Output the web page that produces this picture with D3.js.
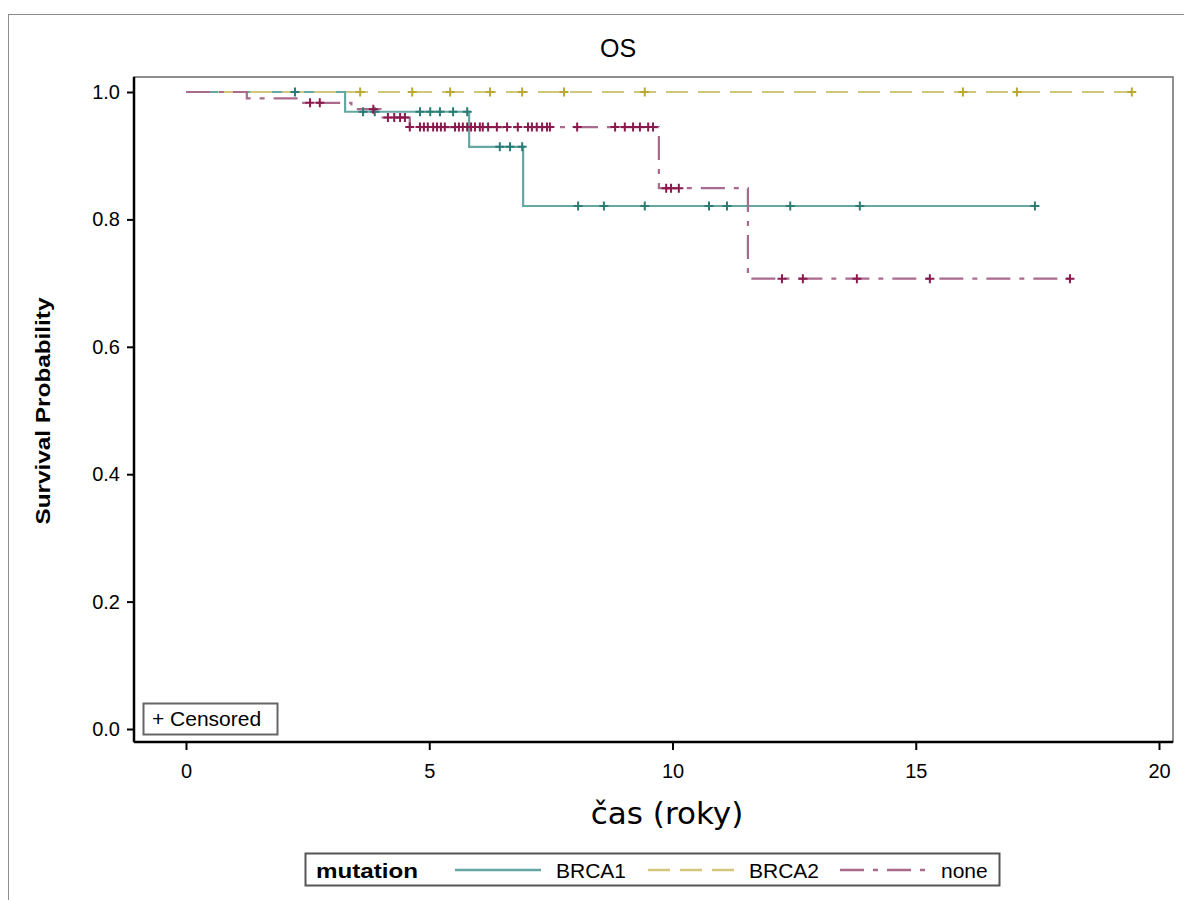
<!DOCTYPE html>
<html>
<head>
<meta charset="utf-8">
<script src="https://d3js.org/d3.v7.min.js"></script>
<style>
body { margin: 0; background: #fff; }
text { font-family: "Liberation Sans", Arial, sans-serif; fill: #000; }
</style>
</head>
<body>
<svg id="chart" width="1184" height="900"></svg>
<script>
// step curves: event times and survival estimates
var brca1Time = [0, 3.27, 5.82, 6.93, 17.45];
var brca1Surv = [1, 0.969, 0.914, 0.821, 0.821];
var brca1Cens = [2.24, 3.64, 3.88, 4.81, 5.02, 5.22, 5.49, 5.78, 6.45, 6.66, 6.91,
                 8.06, 8.59, 9.43, 10.75, 11.12, 12.42, 13.85, 17.45];

var brca2Time = [0, 19.45];
var brca2Surv = [1, 1];
var brca2Cens = [3.58, 4.65, 5.43, 6.25, 6.91, 7.77, 9.43, 15.97, 17.08, 19.44];

var noneTime = [0, 1.25, 2.3, 3.4, 4.0, 4.6, 9.72, 11.55, 18.17];
var noneSurv = [1, 0.99, 0.983, 0.973, 0.96, 0.945, 0.849, 0.707, 0.707];
var noneCens = [2.55, 2.75, 3.85, 4.15, 4.28, 4.40, 4.50, 4.60,
                4.81, 4.89, 4.97, 5.08, 5.16, 5.24, 5.32, 5.53, 5.61, 5.69, 5.78, 5.86, 5.94,
                6.04, 6.10, 6.21, 6.39, 6.60, 6.82, 7.03, 7.11, 7.21, 7.32, 7.42, 7.48,
                8.04, 8.82, 9.02, 9.19, 9.33, 9.50, 9.60,
                9.87, 9.97, 10.13, 12.25, 12.68, 13.79, 15.29, 18.17];

var xTicks = [0, 5, 10, 15, 20];
var yTicks = [0, 0.2, 0.4, 0.6, 0.8, 1.0];
var groups = ["BRCA1", "BRCA2", "none"];

var svg = d3.select("#chart");

// scales
var x = d3.scaleLinear().domain([0, 20]).range([186, 1159]);
var y = d3.scaleLinear().domain([0, 1]).range([729, 92]);

// outer frame
svg.append("rect").attr("x", 8.5).attr("y", 14.5).attr("width", 1180).attr("height", 900)
    .attr("fill", "none").attr("stroke", "#8c8c8c").attr("stroke-width", 1);

// plot frame
svg.append("rect").attr("x", 134).attr("y", 77).attr("width", 1039).attr("height", 665)
    .attr("fill", "#fff").attr("stroke", "#6a6a6a").attr("stroke-width", 1.5);

// axes
var yAxis = svg.append("g").attr("transform", "translate(134,0)")
    .call(d3.axisLeft(y).tickValues(yTicks).tickFormat(d3.format(".1f")).tickSize(7).tickSizeOuter(0));
var xAxis = svg.append("g").attr("transform", "translate(0,742)")
    .call(d3.axisBottom(x).tickValues(xTicks).tickFormat(d3.format("d")).tickSize(8).tickSizeOuter(0));
yAxis.select(".domain").attr("d", "M0,77V742");
xAxis.select(".domain").attr("d", "M134,0H1173");
[yAxis, xAxis].forEach(function(a) {
    a.selectAll(".domain").attr("stroke", "#000").attr("stroke-width", 2.5);
    a.selectAll(".tick line").attr("stroke", "#000").attr("stroke-width", 2);
    a.selectAll(".tick text").style("font-size", "20px").style("font-family", "Liberation Sans, Arial, sans-serif").attr("fill", "#222");
});
yAxis.selectAll(".tick text").attr("x", -14);
xAxis.selectAll(".tick text").attr("y", 22);

// titles
svg.append("text").attr("x", 618).attr("y", 57).attr("text-anchor", "middle")
    .style("font-size", "25px").attr("fill", "#222").text("OS");
svg.append("text").attr("transform", "translate(50,411) rotate(-90)").attr("text-anchor", "middle")
    .style("font-size", "21px").style("font-weight", "bold")
    .attr("textLength", 227).attr("lengthAdjust", "spacingAndGlyphs").text("Survival Probability");
svg.append("text").attr("x", 667).attr("y", 824).attr("text-anchor", "middle")
    .style("font-family", "DejaVu Sans, sans-serif").style("font-size", "31px").attr("fill", "#222")
    .text("čas (roky)");

// series styling
var lineColor = { BRCA1: "#65a7a2", BRCA2: "#d2c67c", none: "#a96a8c" };
var markColor = { BRCA1: "#2a7c75", BRCA2: "#b9a92e", none: "#8a1a4e" };
var dash = { BRCA1: null, BRCA2: "22,10", none: "24,9,5,9" };

function stepValue(times, surv, t) {
    var v = surv[0];
    for (var i = 0; i < times.length; i++) if (times[i] <= t) v = surv[i];
    return v;
}

var series = [
    { name: "BRCA1", time: brca1Time, surv: brca1Surv, cens: brca1Cens },
    { name: "BRCA2", time: brca2Time, surv: brca2Surv, cens: brca2Cens },
    { name: "none", time: noneTime, surv: noneSurv, cens: noneCens }
];

var line = d3.line().x(function(d) { return x(d[0]); }).y(function(d) { return y(d[1]); })
    .curve(d3.curveStepAfter);

var plot = svg.append("g");
series.forEach(function(s) {
    var pts = s.time.map(function(t, i) { return [t, s.surv[i]]; });
    plot.append("path").datum(pts).attr("d", line)
        .attr("fill", "none").attr("stroke", lineColor[s.name]).attr("stroke-width", 2.2)
        .attr("stroke-dasharray", dash[s.name]);
});
series.forEach(function(s) {
    plot.selectAll(null).data(s.cens).enter().append("path")
        .attr("transform", function(t) {
            return "translate(" + x(t) + "," + y(stepValue(s.time, s.surv, t)) + ")";
        })
        .attr("d", "M-4.5,0H4.5M0,-4.5V4.5")
        .attr("stroke", markColor[s.name]).attr("stroke-width", 2).attr("fill", "none");
});

// censored inset
svg.append("rect").attr("x", 143.5).attr("y", 703.5).attr("width", 134).attr("height", 31)
    .attr("fill", "#fff").attr("stroke", "#666").attr("stroke-width", 2);
svg.append("text").attr("x", 152).attr("y", 726).style("font-size", "21px").attr("fill", "#222")
    .text("+ Censored");

// legend
var lg = svg.append("g");
lg.append("rect").attr("x", 305.5).attr("y", 853.5).attr("width", 694).attr("height", 32)
    .attr("fill", "#fff").attr("stroke", "#555").attr("stroke-width", 2);
lg.append("text").attr("x", 316).attr("y", 878).style("font-size", "21px").style("font-weight", "bold")
    .attr("textLength", 102).attr("lengthAdjust", "spacingAndGlyphs")
    .attr("fill", "#222").text("mutation");
var legX = [455, 648, 840];
groups.forEach(function(g, i) {
    lg.append("line").attr("x1", legX[i]).attr("x2", legX[i] + 86).attr("y1", 870).attr("y2", 870)
        .attr("stroke", lineColor[g]).attr("stroke-width", 2.5).attr("stroke-dasharray", dash[g]);
    lg.append("text").attr("x", legX[i] + 101).attr("y", 878).style("font-size", "21px")
        .attr("fill", "#222").text(g);
});
</script>
</body>
</html>
